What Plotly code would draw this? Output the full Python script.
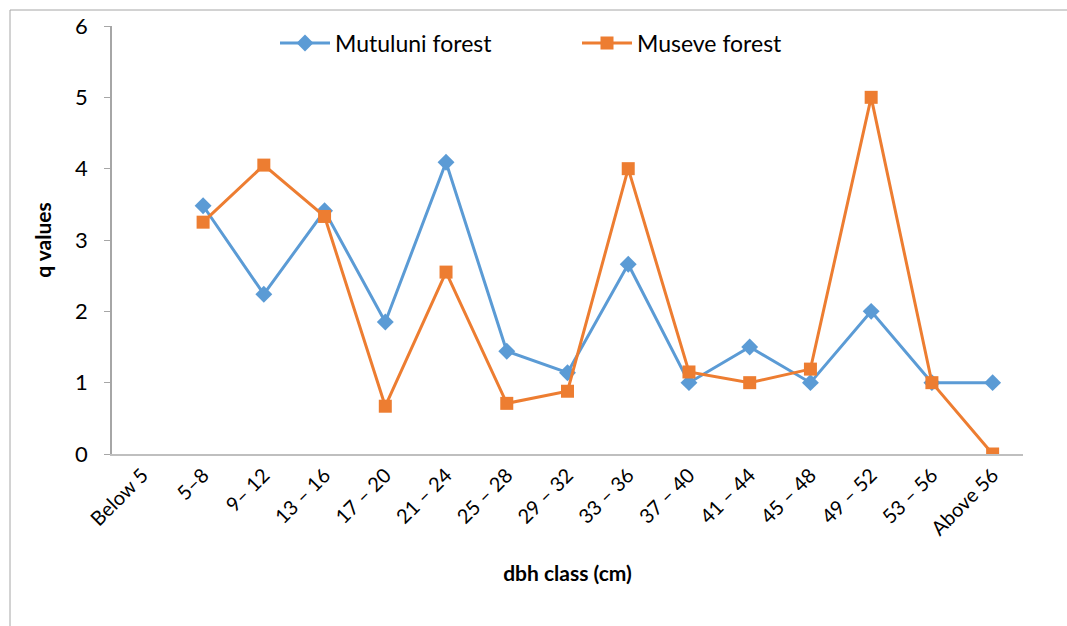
import plotly.graph_objects as go

# dbh classes (cm)
classes = ["Below 5", "5–8", "9– 12", "13 – 16", "17 – 20", "21 – 24", "25 – 28",
           "29 – 32", "33 – 36", "37 – 40", "41 – 44", "45 – 48", "49 – 52",
           "53 – 56", "Above 56"]

# q values per class (no value for the first class)
mutuluni = [None, 3.48, 2.24, 3.41, 1.85, 4.09, 1.44, 1.14, 2.66, 1.0, 1.5, 1.0, 2.0, 1.0, 1.0]
museve = [None, 3.25, 4.05, 3.33, 0.67, 2.55, 0.71, 0.88, 4.0, 1.15, 1.0, 1.19, 5.0, 1.0, 0.0]

y_ticks = [0, 1, 2, 3, 4, 5, 6]

FONT = "Lato, Carlito, Calibri, sans-serif"
BLUE = "#5B9BD5"
ORANGE = "#ED7D31"

fig = go.Figure()
fig.add_trace(go.Scatter(
    x=classes, y=mutuluni, name="Mutuluni forest", mode="lines+markers",
    line=dict(color=BLUE, width=3),
    marker=dict(symbol="diamond", size=13, color=BLUE),
    connectgaps=False,
))
fig.add_trace(go.Scatter(
    x=classes, y=museve, name="Museve forest", mode="lines+markers",
    line=dict(color=ORANGE, width=3),
    marker=dict(symbol="square", size=13, color=ORANGE),
    connectgaps=False,
))

L, R, T, B = 112, 44, 26, 172
W, H = 1067, 626
pw, ph = W - L - R, H - T - B

# outer chart frame (left and top edges visible, rest runs off the page)
fig.add_shape(type="rect", xref="paper", yref="paper",
              x0=(10 - L) / pw, x1=(W + 20 - L) / pw,
              y0=-(H + 20 - (H - B)) / ph, y1=(H - B - 10) / ph,
              line=dict(color="#A6A6A6", width=1), fillcolor="rgba(0,0,0,0)",
              layer="below")

fig.update_layout(
    width=W, height=H,
    margin=dict(l=L, r=R, t=T, b=B),
    paper_bgcolor="white", plot_bgcolor="white",
    font=dict(family=FONT, color="#000000"),
    showlegend=True,
    legend=dict(orientation="h", x=(275 - L) / pw, xanchor="left",
                y=(H - B - 43) / ph, yanchor="middle",
                font=dict(size=23, family=FONT), entrywidth=237,
                entrywidthmode="pixels", itemwidth=50,
                bgcolor="rgba(0,0,0,0)"),
    xaxis=dict(
        type="category", categoryorder="array", categoryarray=classes,
        range=[-0.5, len(classes) - 0.5],
        showline=True, linecolor="#BFBFBF", linewidth=1.5,
        showgrid=False, ticks="", tickangle=-45,
        tickfont=dict(size=20, family=FONT),
        title=dict(text="<b>dbh class (cm)</b>", font=dict(size=21, family=FONT), standoff=28),
    ),
    yaxis=dict(
        range=[0, 6], tickvals=y_ticks,
        showline=True, linecolor="#A6A6A6", linewidth=1.5,
        showgrid=False, zeroline=False,
        ticks="outside", ticklen=6, tickcolor="#A6A6A6",
        ticklabelstandoff=12,
        tickfont=dict(size=22, family=FONT),
        title=dict(text="<b>q values</b>", font=dict(size=21, family=FONT), standoff=18),
    ),
)

fig.write_html("out.html")
